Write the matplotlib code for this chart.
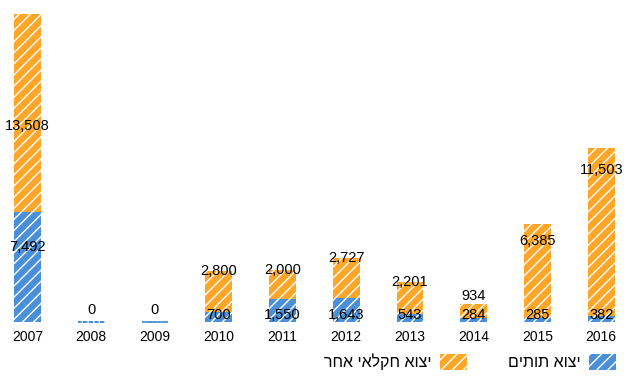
import matplotlib.pyplot as plt
import numpy as np

# export values by year
years = ['2007', '2008', '2009', '2010', '2011', '2012', '2013', '2014', '2015', '2016']
strawberries = [7492, 0, 0, 700, 1550, 1643, 543, 284, 285, 382]
other_agri = [13508, 0, 0, 2800, 2000, 2727, 2201, 934, 6385, 11503]

# legend labels (logical order, Hebrew)
label_strawberries = 'יצוא תותים'
label_other = 'יצוא חקלאי אחר'

# label nudges in points (visual tweaks only)
blue_nudge = [54, 0, 0, 5, 5, 5, 5, 5, 5, 5]
orange_nudge = [-81, 9, 9, 0, 0, 0, 0, 6, -12, -16]

blue = '#4A90D9'
orange = '#FFA629'

plt.rcParams['font.family'] = ['Liberation Sans', 'DejaVu Sans']
plt.rcParams['hatch.linewidth'] = 1.0


def rtl(s):
    # matplotlib has no bidi support, so feed the visual order
    return s[::-1]


x = np.arange(len(years))
width = 0.42

fig = plt.figure(figsize=(6.28, 3.78), dpi=100)
ax = fig.add_axes([0, 56 / 378, 1, 308 / 378])

s = np.array(strawberries)
o = np.array(other_agri)
nz = (s + o) > 0

b1 = ax.bar(x[nz], s[nz], width, color=blue, edgecolor='white', linewidth=0, hatch='///')
b2 = ax.bar(x[nz], o[nz], width, bottom=s[nz], color=orange, edgecolor='white', linewidth=0, hatch='///')
# zero bars show up as a dashed line on the baseline
ax.bar(x[~nz], s[~nz], width, fill=False, edgecolor=blue, linewidth=1.1,
       linestyle=(0, (2.5, 1.2)), clip_on=False)

for i in range(len(years)):
    if s[i] + o[i] == 0:
        ax.annotate('0', (x[i], 0), xytext=(0, orange_nudge[i]), textcoords='offset points',
                    ha='center', va='center', fontsize=10.5)
        continue
    ax.annotate(f'{s[i]:,}', (x[i], 0), xytext=(0, blue_nudge[i]), textcoords='offset points',
                ha='center', va='center', fontsize=10.5)
    ax.annotate(f'{o[i]:,}', (x[i], s[i] + o[i]), xytext=(0, orange_nudge[i]), textcoords='offset points',
                ha='center', va='center', fontsize=10.5)

ax.set_xlim(-0.43, 9.42)
ax.set_ylim(0, 21000)
ax.set_xticks(x)
ax.set_xticklabels(years, fontsize=10)
ax.tick_params(axis='x', length=0, pad=6)
ax.set_yticks([])
for sp in ax.spines.values():
    sp.set_visible(False)

fig.legend([b2, b1], [rtl(label_other), rtl(label_strawberries)], ncol=2, markerfirst=False,
           loc='center right', bbox_to_anchor=(616 / 628, 1 - 362 / 378), frameon=False,
           fontsize=11.5, handlelength=1.7, handleheight=1.1, handletextpad=0.5,
           columnspacing=2.6, borderpad=0, borderaxespad=0)

fig.savefig('out.png', dpi=100)
